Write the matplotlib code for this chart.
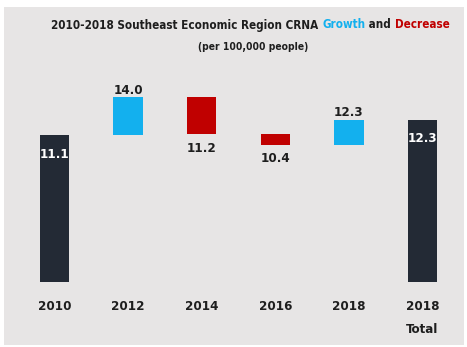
import matplotlib
matplotlib.use("Agg")
import matplotlib.pyplot as plt
from matplotlib.patches import Rectangle
from matplotlib import font_manager as fm

# Waterfall data (per 100,000 people)
categories = ["2010", "2012", "2014", "2016", "2018", "2018\nTotal"]
levels = [11.1, 14.0, 11.2, 10.4, 12.3, 12.3]
kinds = ["total", "step", "step", "step", "step", "total"]

DARK = "#232a35"
BLUE = "#13b0ee"
RED = "#c00000"
PANEL = "#e7e5e5"
TEXT = "#1e1e1e"


def condensed(weight):
    """FontProperties for the condensed DejaVu Sans face of a given weight."""
    for f in fm.fontManager.ttflist:
        if f.name == "DejaVu Sans" and f.stretch == "condensed" and f.weight == weight:
            return fm.FontProperties(fname=f.fname)
    return fm.FontProperties(family="DejaVu Sans", weight=weight)


BOLD = condensed(700)
W, H = 467, 347
fig = plt.figure(figsize=(W / 100, H / 100), dpi=100, facecolor="white")
renderer = fig.canvas.get_renderer()

# light gray panel behind everything
fig.patches.append(Rectangle((4 / W, 2 / H), 460 / W, 338 / H,
                             transform=fig.transFigure, facecolor=PANEL,
                             edgecolor="none", zorder=-5))

ax = fig.add_axes([17.7 / W, 65 / H, 441.6 / W, 255 / H], zorder=2)
ax.set_facecolor("none")
ax.set_xlim(-0.5, 5.5)
ax.set_ylim(0, 255 / 13.2)
for s in ax.spines.values():
    s.set_visible(False)
ax.set_yticks([])
ax.set_xticks([])


def fp(size):
    p = BOLD.copy()
    p.set_size(size)
    return p


bw = 0.4
prev = 0.0
for i, (lvl, kind) in enumerate(zip(levels, kinds)):
    if kind == "total":
        ax.bar(i, lvl, width=bw, bottom=0, color=DARK, zorder=2)
        ax.text(i, lvl - 1.45, f"{lvl:.1f}", ha="center", va="center",
                color="white", fontproperties=fp(9.5), zorder=3)
    else:
        lo, hi = min(prev, lvl), max(prev, lvl)
        up = lvl >= prev
        ax.bar(i, hi - lo, width=bw, bottom=lo, color=BLUE if up else RED,
               zorder=2)
        if up:
            ax.text(i, hi + 0.05, f"{lvl:.1f}", ha="center", va="bottom",
                    color=TEXT, fontproperties=fp(9.5))
        else:
            ax.text(i, lo - 1.05, f"{lvl:.1f}", ha="center", va="center",
                    color=TEXT, fontproperties=fp(9.5))
    prev = lvl

# category labels under the bars
for i, c in enumerate(categories):
    ax.text(i, -1.35, c, ha="center", va="top", color=TEXT,
            fontproperties=fp(9.5), linespacing=2.05)

# title: plain, coloured and plain segments laid side by side,
# sized so the whole line spans a fixed width
parts = [("2010-2018 Southeast Economic Region CRNA ", TEXT),
         ("Growth", BLUE), (" and ", TEXT), ("Decrease", RED)]
objs = [fig.text(0, 0, s, color=col, fontproperties=fp(10), va="center")
        for s, col in parts]
total = sum(t.get_window_extent(renderer).width for t in objs)
size = 10 * 395 / total
for t in objs:
    t.set_fontproperties(fp(size))
widths = [t.get_window_extent(renderer).width for t in objs]
x = 250.5 - sum(widths) / 2
for t, w in zip(objs, widths):
    t.set_position((x / W, 1 - 25 / H))
    x += w

sub = fig.text(253 / W, 1 - 47 / H, "(per 100,000 people)", ha="center",
               va="center", color=TEXT, fontproperties=fp(10))
sw = sub.get_window_extent(renderer).width
sub.set_fontproperties(fp(10 * 110 / sw))

fig.savefig("out.png", dpi=100, facecolor="white")
